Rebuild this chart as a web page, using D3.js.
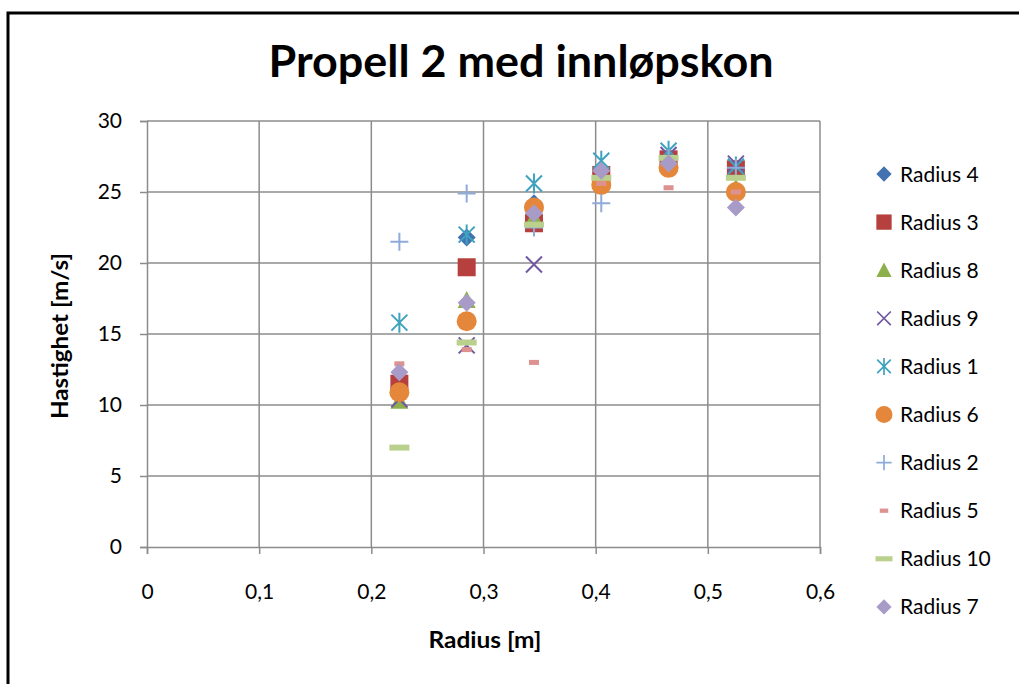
<!DOCTYPE html>
<html>
<head>
<meta charset="utf-8">
<script src="https://cdn.jsdelivr.net/npm/d3@7"></script>
<style>
  body { margin: 0; background: #fff; }
  text { font-family: Lato, "Open Sans", sans-serif; fill: #000; }
</style>
</head>
<body>
<div id="chart"></div>
<script>
// x positions (radius, m)
const radii = [0.225, 0.285, 0.345, 0.405, 0.465, 0.525];

// velocities [m/s] per measurement series
const radius4 = [11.2, 21.8, 24.2, 26.3, 27.1, 26.5];
const radius3 = [11.5, 19.7, 22.8, 26.2, 27.3, 26.6];
const radius8 = [10.3, 17.4, 23.2, 25.8, 27.0, 25.3];
const radius9 = [10.4, 14.2, 19.9, 26.0, 27.6, 27.0];
const radius1 = [15.8, 22.0, 25.6, 27.2, 27.9, 26.8];
const radius6 = [10.9, 15.9, 23.9, 25.5, 26.7, 25.0];
const radius2 = [21.5, 24.9, 22.5, 24.2, 27.4, 26.7];
const radius5 = [12.9, 13.9, 13.0, 25.6, 25.3, 25.0];
const radius10 = [7.0, 14.4, 22.7, 26.0, 27.4, 26.0];
const radius7 = [12.3, 17.2, 23.5, 26.5, 27.0, 23.9];

const seriesNames = ["Radius 4", "Radius 3", "Radius 8", "Radius 9", "Radius 1",
                     "Radius 6", "Radius 2", "Radius 5", "Radius 10", "Radius 7"];
const seriesValues = [radius4, radius3, radius8, radius9, radius1,
                      radius6, radius2, radius5, radius10, radius7];

const xTicks = [0, 0.1, 0.2, 0.3, 0.4, 0.5, 0.6];
const yTicks = [0, 5, 10, 15, 20, 25, 30];

// marker style for each series (same order as seriesNames)
const markers = [
  { shape: "diamond", color: "#4272B0" },
  { shape: "square", color: "#B5403D" },
  { shape: "triangle", color: "#8DB04C" },
  { shape: "x", color: "#7258A0" },
  { shape: "star", color: "#3FA3BF" },
  { shape: "circle", color: "#E5873A" },
  { shape: "plus", color: "#8EABD9" },
  { shape: "smalldash", color: "#DD9290" },
  { shape: "dash", color: "#BAD18E" },
  { shape: "diamond", color: "#A99BC8" }
];

const W = 1019, H = 684;
const margin = { top: 121, left: 147, right: 199, bottom: 137 };
const plotW = W - margin.left - margin.right;
const plotH = H - margin.top - margin.bottom;

const svg = d3.select("#chart").append("svg")
  .attr("width", W)
  .attr("height", H);

// outer frame
svg.append("rect")
  .attr("x", 8).attr("y", 13)
  .attr("width", W + 10).attr("height", H + 10)
  .attr("fill", "none")
  .attr("stroke", "#000")
  .attr("stroke-width", 3);

svg.append("text")
  .attr("x", 521).attr("y", 77)
  .attr("text-anchor", "middle")
  .attr("font-size", 43)
  .attr("font-weight", "bold")
  .attr("textLength", 505)
  .attr("lengthAdjust", "spacingAndGlyphs")
  .text("Propell 2 med innløpskon");

const x = d3.scaleLinear().domain([0, 0.6]).range([0, plotW]);
const y = d3.scaleLinear().domain([0, 30]).range([plotH, 0]);

const g = svg.append("g")
  .attr("transform", `translate(${margin.left},${margin.top})`);

// gridlines
g.append("g").selectAll("line.h")
  .data(yTicks.filter(d => d > 0))
  .join("line")
  .attr("x1", 0).attr("x2", plotW)
  .attr("y1", d => y(d)).attr("y2", d => y(d))
  .attr("stroke", "#8c8c8c").attr("stroke-width", 1.5);

g.append("g").selectAll("line.v")
  .data(xTicks.filter(d => d > 0))
  .join("line")
  .attr("x1", d => x(d)).attr("x2", d => x(d))
  .attr("y1", 0).attr("y2", plotH)
  .attr("stroke", "#8c8c8c").attr("stroke-width", 1.5);

const fmt = d => String(d).replace(".", ",");

const yAxis = g.append("g")
  .call(d3.axisLeft(y).tickValues(yTicks).tickSize(7).tickPadding(18).tickFormat(fmt));
const xAxis = g.append("g")
  .attr("transform", `translate(0,${plotH})`)
  .call(d3.axisBottom(x).tickValues(xTicks).tickSize(7).tickPadding(30).tickFormat(fmt));

[yAxis, xAxis].forEach(a => {
  a.select(".domain").attr("stroke", "#8c8c8c").attr("stroke-width", 1.5);
  a.selectAll(".tick line").attr("stroke", "#8c8c8c").attr("stroke-width", 1.5);
  a.selectAll("text").attr("font-size", 21).attr("font-family", "Lato, sans-serif").attr("fill", "#000");
});

svg.append("text")
  .attr("transform", "translate(68,336) rotate(-90)")
  .attr("text-anchor", "middle")
  .attr("font-size", 22)
  .attr("font-weight", "bold")
  .attr("textLength", 166)
  .attr("lengthAdjust", "spacingAndGlyphs")
  .text("Hastighet [m/s]");

svg.append("text")
  .attr("x", 485).attr("y", 648)
  .attr("text-anchor", "middle")
  .attr("font-size", 22)
  .attr("font-weight", "bold")
  .attr("textLength", 113)
  .attr("lengthAdjust", "spacingAndGlyphs")
  .text("Radius [m]");

function drawMarker(sel, shape, color) {
  switch (shape) {
    case "diamond":
      sel.append("path").attr("d", "M0,-9L9,0L0,9L-9,0Z").attr("fill", color);
      break;
    case "square":
      sel.append("rect").attr("x", -9).attr("y", -9).attr("width", 18).attr("height", 18).attr("fill", color);
      break;
    case "triangle":
      sel.append("path").attr("d", "M0,-9L9,8L-9,8Z").attr("fill", color);
      break;
    case "circle":
      sel.append("circle").attr("r", 10).attr("fill", color);
      break;
    case "x":
      sel.append("path").attr("d", "M-8,-8L8,8M-8,8L8,-8").attr("stroke", color).attr("stroke-width", 2).attr("fill", "none");
      break;
    case "star":
      sel.append("path").attr("d", "M-8,-8L8,8M-8,8L8,-8M0,-10L0,10").attr("stroke", color).attr("stroke-width", 2).attr("fill", "none");
      break;
    case "plus":
      sel.append("path").attr("d", "M-9,0L9,0M0,-9L0,9").attr("stroke", color).attr("stroke-width", 2).attr("fill", "none");
      break;
    case "smalldash":
      sel.append("rect").attr("x", -5).attr("y", -2.5).attr("width", 10).attr("height", 5).attr("fill", color);
      break;
    case "dash":
      sel.append("rect").attr("x", -10).attr("y", -3).attr("width", 20).attr("height", 6).attr("fill", color);
      break;
  }
}

seriesValues.forEach((vals, i) => {
  const pts = g.append("g").selectAll("g")
    .data(vals.map((v, j) => ({ r: radii[j], v })))
    .join("g")
    .attr("transform", d => `translate(${x(d.r)},${y(d.v)})`);
  pts.each(function () { drawMarker(d3.select(this), markers[i].shape, markers[i].color); });
});

// legend
const legend = svg.append("g").attr("transform", "translate(884,174)");
seriesNames.forEach((name, i) => {
  const row = legend.append("g").attr("transform", `translate(0,${i * 48.1})`);
  const m = row.append("g").attr("transform", "scale(0.85)");
  drawMarker(m, markers[i].shape, markers[i].color);
  row.append("text")
    .attr("x", 16).attr("y", 7.5)
    .attr("font-size", 21)
    .text(name);
});
</script>
</body>
</html>
